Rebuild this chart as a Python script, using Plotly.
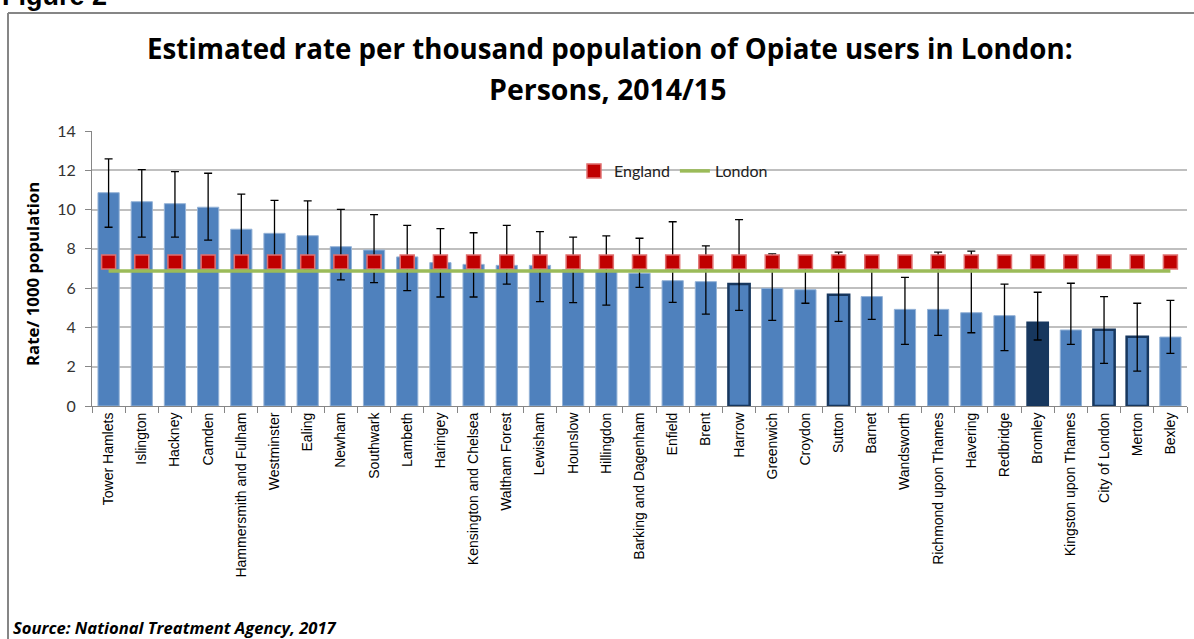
import plotly.graph_objects as go

boroughs = ["Tower Hamlets", "Islington", "Hackney", "Camden", "Hammersmith and Fulham",
            "Westminster", "Ealing", "Newham", "Southwark", "Lambeth", "Haringey",
            "Kensington and Chelsea", "Waltham Forest", "Lewisham", "Hounslow", "Hillingdon",
            "Barking and Dagenham", "Enfield", "Brent", "Harrow", "Greenwich", "Croydon",
            "Sutton", "Barnet", "Wandsworth", "Richmond upon Thames", "Havering", "Redbridge",
            "Bromley", "Kingston upon Thames", "City of London", "Merton", "Bexley"]
rate = [10.86, 10.40, 10.30, 10.12, 9.00, 8.79, 8.67, 8.11, 7.94, 7.59, 7.30,
        7.21, 7.16, 7.16, 6.95, 6.90, 6.76, 6.38, 6.33, 6.21, 5.99, 5.92,
        5.67, 5.57, 4.92, 4.92, 4.75, 4.60, 4.26, 3.87, 3.88, 3.53, 3.51]
upper = [12.58, 12.03, 11.93, 11.85, 10.79, 10.47, 10.44, 10.01, 9.74, 9.20, 9.03,
         8.82, 9.20, 8.88, 8.60, 8.66, 8.54, 9.38, 8.15, 9.49, 7.74, 7.20,
         7.83, 7.10, 6.55, 7.83, 7.88, 6.20, 5.79, 6.25, 5.57, 5.23, 5.38]
lower = [9.10, 8.60, 8.60, 8.44, 7.20, 7.10, 6.95, 6.42, 6.28, 5.87, 5.55,
         5.55, 6.20, 5.31, 5.26, 5.14, 6.04, 5.28, 4.68, 4.87, 4.36, 5.23,
         4.31, 4.41, 3.14, 3.60, 3.73, 2.82, 3.36, 3.14, 2.17, 1.78, 2.68]
england = [7.33] * len(boroughs)
london = [6.87] * len(boroughs)
highlight_outline = ["Harrow", "Sutton", "City of London", "Merton"]
highlight_fill = ["Bromley"]

fill = ["#17375E" if b in highlight_fill else "#4F81BD" for b in boroughs]
line_col = ["#17375E" if (b in highlight_fill or b in highlight_outline) else "#95B3D7" for b in boroughs]
line_w = [2.5 if b in highlight_outline else (1.5 if b in highlight_fill else 1) for b in boroughs]

fig = go.Figure()
fig.add_trace(go.Bar(
    x=boroughs, y=rate, showlegend=False,
    marker=dict(color=fill, line=dict(color=line_col, width=line_w)),
    error_y=dict(type="data", symmetric=False,
                 array=[u - r for u, r in zip(upper, rate)],
                 arrayminus=[r - l for r, l in zip(rate, lower)],
                 color="black", thickness=1.3, width=4),
))
fig.add_trace(go.Scatter(
    x=boroughs, y=england, mode="markers", name="England",
    marker=dict(symbol="square", size=14, color="#C00000",
                line=dict(color="#E07070", width=1.5)),
))
fig.add_trace(go.Scatter(
    x=boroughs, y=london, mode="lines", name="London",
    line=dict(color="#9BBB59", width=3.5),
))

L, R, T, B = 92, 7, 131, 233
W, H = 1194, 639
pw, ph = W - L - R, H - T - B

def px(xp):
    return (xp - L) / pw

def py(yp):
    return (H - B - yp) / ph

fig.update_layout(
    width=W, height=H, margin=dict(l=L, r=R, t=T, b=B),
    paper_bgcolor="white", plot_bgcolor="white",
    bargap=0.36,
    showlegend=True,
    legend=dict(orientation="h", x=px(574), y=py(171), xanchor="left", yanchor="middle",
                bgcolor="rgba(0,0,0,0)", font=dict(family="Lato", size=16, color="#222")),
    xaxis=dict(range=[-0.5, len(boroughs) - 0.5], showline=True, linecolor="#868686",
               linewidth=1, ticks="outside",
               tickson="boundaries", ticklen=6, tickcolor="#868686", tickangle=-90,
               tickfont=dict(family="Liberation Sans", size=14, color="black"),
               showgrid=False),
    yaxis=dict(range=[0, 14], dtick=2, showline=True, linecolor="#868686", linewidth=1,
               ticks="outside", ticklen=6, tickcolor="#868686",
               gridcolor="#BFBFBF", gridwidth=1.5, zeroline=False,
               tickfont=dict(family="Lato", size=16, color="#333"),
               ticklabelstandoff=6),
    annotations=[
        dict(text="<b>Estimated rate per thousand population of Opiate users in London:</b>",
             x=px(610), y=py(48), xref="paper", yref="paper", showarrow=False,
             xanchor="center", yanchor="middle",
             font=dict(family="Open Sans", size=27.7, color="black")),
        dict(text="<b>Persons, 2014/15</b>",
             x=px(607), y=py(89), xref="paper", yref="paper", showarrow=False,
             xanchor="center", yanchor="middle",
             font=dict(family="Open Sans", size=28.5, color="black")),
        dict(text="<b>Rate/ 1000 population</b>", textangle=-90,
             x=px(32), y=py(274), xref="paper", yref="paper", showarrow=False,
             xanchor="center", yanchor="middle", font=dict(family="Open Sans", size=16.8, color="black")),
        dict(text="<b><i>Source: National Treatment Agency, 2017</i></b>",
             x=px(11), y=py(627), xref="paper", yref="paper", showarrow=False,
             xanchor="left", yanchor="middle", font=dict(family="Open Sans", size=16.6, color="black")),
        dict(text="<b>Figure 2</b>",
             x=px(0), y=py(-4), xref="paper", yref="paper", showarrow=False,
             xanchor="left", yanchor="middle", font=dict(family="Liberation Sans", size=27, color="black")),
    ],
    shapes=[
        dict(type="line", xref="paper", yref="paper", x0=px(8), x1=px(1200), y0=py(13), y1=py(13),
             line=dict(color="#868686", width=2)),
        dict(type="line", xref="paper", yref="paper", x0=px(8), x1=px(8), y0=py(13), y1=py(645),
             line=dict(color="#868686", width=2)),
    ],
)

fig.write_html("out.html", config={"displayModeBar": False},
               post_script="document.body.style.margin='0';document.body.style.overflow='hidden';")
